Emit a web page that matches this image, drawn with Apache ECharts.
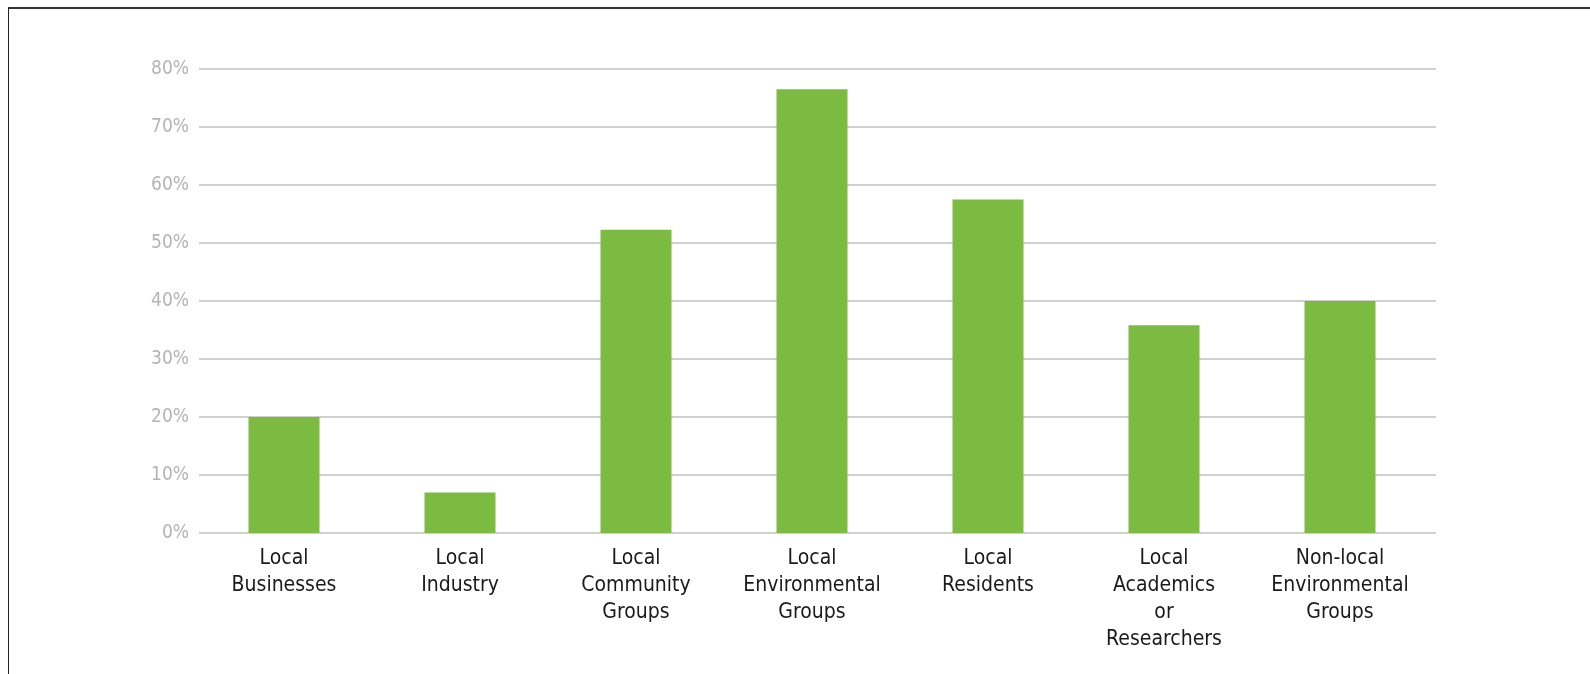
<!DOCTYPE html>
<html>
<head>
<meta charset="utf-8">
<script src="https://cdn.jsdelivr.net/npm/echarts@6/dist/echarts.min.js"></script>
<style>
  html, body { margin: 0; padding: 0; background: #fff; }
  #frame { position: absolute; left: 8px; top: 7px; width: 1700px; height: 800px;
           border-left: 1px solid #222; border-top: 2px solid #333; box-sizing: border-box; }
  #chart { position: absolute; left: 0; top: 0; width: 1590px; height: 674px; }
</style>
</head>
<body>
<div id="frame"></div>
<div id="chart"></div>
<script>
const categories = [
  'Local\nBusinesses',
  'Local\nIndustry',
  'Local\nCommunity\nGroups',
  'Local\nEnvironmental\nGroups',
  'Local\nResidents',
  'Local\nAcademics\nor\nResearchers',
  'Non-local\nEnvironmental\nGroups'
];
const values = [20, 7, 52.3, 76.5, 57.5, 35.8, 40];
const yTicks = { min: 0, max: 80, interval: 10 };

const chart = echarts.init(document.getElementById('chart'), null, { renderer: 'canvas' });
chart.setOption({
  animation: false,
  backgroundColor: 'transparent',
  grid: [
    { left: 196, right: 162, top: 69, bottom: 141 },
    { left: 199, right: 154, top: 69, bottom: 141 }
  ],
  xAxis: [
    {
      type: 'category', gridIndex: 0, data: categories,
      axisLine: { show: false }, axisTick: { show: false },
      axisLabel: {
        interval: 0, margin: 12, color: '#1a1a1a',
        fontFamily: '"DejaVu Sans Condensed", "Liberation Sans Narrow", sans-serif',
        fontSize: 21, lineHeight: 27
      }
    },
    {
      type: 'category', gridIndex: 1, data: categories,
      show: false
    }
  ],
  yAxis: [
    {
      type: 'value', gridIndex: 0, min: yTicks.min, max: yTicks.max, interval: yTicks.interval,
      axisLine: { show: false }, axisTick: { show: false }, axisLabel: { show: false },
      splitLine: { show: false }
    },
    {
      type: 'value', gridIndex: 1, min: yTicks.min, max: yTicks.max, interval: yTicks.interval,
      axisLine: { show: false }, axisTick: { show: false },
      axisLabel: {
        formatter: '{value}%', margin: 10, color: '#b4b4b4',
        fontFamily: '"Liberation Sans Narrow", "DejaVu Sans Condensed", sans-serif',
        fontSize: 19
      },
      splitLine: { show: true, lineStyle: { color: '#c2c2c2', width: 1.5 } }
    }
  ],
  series: [
    {
      type: 'bar', xAxisIndex: 0, yAxisIndex: 0,
      data: values, barWidth: 71,
      itemStyle: { color: '#7cba42' },
      z: 5
    }
  ]
});
</script>
</body>
</html>
